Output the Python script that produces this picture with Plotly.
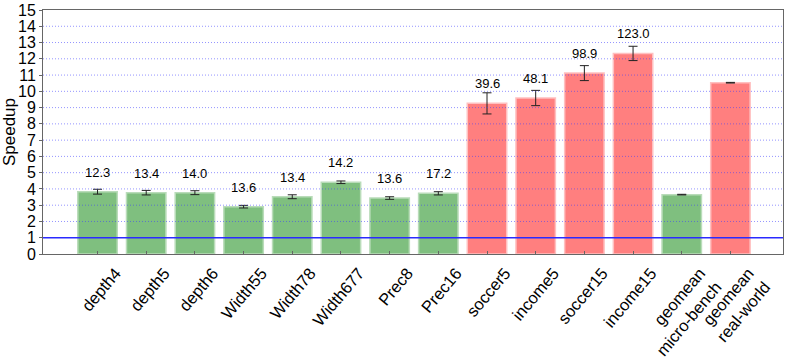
import plotly.graph_objects as go

# benchmark names (x tick labels)
benchmarks = ['depth4', 'depth5', 'depth6', 'Width55', 'Width78', 'Width677',
              'Prec8', 'Prec16', 'soccer5', 'income5', 'soccer15', 'income15',
              'geomean<br>micro-bench', 'geomean<br>real-world']
# speedup per benchmark and its error
speedup = [3.83, 3.77, 3.77, 2.91, 3.52, 4.41, 3.44, 3.73,
           9.26, 9.59, 11.12, 12.33, 3.65, 10.53]
speedup_err = [0.15, 0.14, 0.12, 0.08, 0.12, 0.08, 0.08, 0.10,
               0.65, 0.47, 0.46, 0.44, 0.02, 0.02]
# numbers printed above the bars
top_labels = ['12.3', '13.4', '14.0', '13.6', '13.4', '14.2', '13.6', '17.2',
              '39.6', '48.1', '98.9', '123.0', '', '']
# which group each bar belongs to
groups = ['micro'] * 8 + ['real'] * 4 + ['micro', 'real']

colors = {'micro': '#7fbf7f', 'real': '#ff7f7f'}
edges = {'micro': '#b9dcb9', 'real': '#ffc0c0'}

fig = go.Figure()
fig.add_trace(go.Bar(
    x=benchmarks, y=speedup,
    marker=dict(color=[colors[g] for g in groups],
                line=dict(color=[edges[g] for g in groups], width=1.5)),
    error_y=dict(type='data', array=speedup_err, color='#222222',
                 thickness=1, width=4.5),
    hoverinfo='x+y',
))

# value labels above bars
for name, v, t in zip(benchmarks, speedup, top_labels):
    if t:
        fig.add_annotation(x=name, y=v + 1.2, text=t, showarrow=False,
                           yanchor='middle', font=dict(size=13, color='black'))

# dotted grid drawn over bars
for v in range(2, 15):
    fig.add_shape(type='line', xref='paper', x0=0, x1=1, y0=v, y1=v,
                  line=dict(color='rgba(60,60,255,0.55)', width=1, dash='1px,2px'),
                  layer='above')
# baseline speedup = 1
fig.add_shape(type='line', xref='paper', x0=0, x1=1, y0=1, y1=1,
              line=dict(color='#2a2aff', width=1.6), layer='above')

fig.update_layout(
    width=789, height=361,
    margin=dict(l=43, r=6, t=10, b=107),
    plot_bgcolor='white', paper_bgcolor='white',
    font=dict(family='Liberation Sans, Arial, sans-serif', color='black'),
    bargap=0.19, showlegend=False,
)
fig.update_xaxes(
    range=[-1.12, 14.08], tickangle=-50, tickfont=dict(size=16.5),
    showline=True, linecolor='#666666', linewidth=1, mirror=True,
    ticks='inside', ticklen=3, tickcolor='#666666',
    ticklabelshift=18, ticklabelstandoff=2, automargin=False,
)
fig.update_yaxes(
    range=[0, 15], dtick=1, showgrid=False, zeroline=False,
    tickfont=dict(size=16), automargin=False,
    title=dict(text='Speedup', font=dict(size=17), standoff=2),
    showline=True, linecolor='#666666', linewidth=1, mirror=True,
    ticks='outside', ticklen=3, tickcolor='#666666',
)

# drop the default page margin so the figure fills the window
fig.write_html('out.html', config={'displayModeBar': False},
               post_script="document.body.style.margin='0';")
